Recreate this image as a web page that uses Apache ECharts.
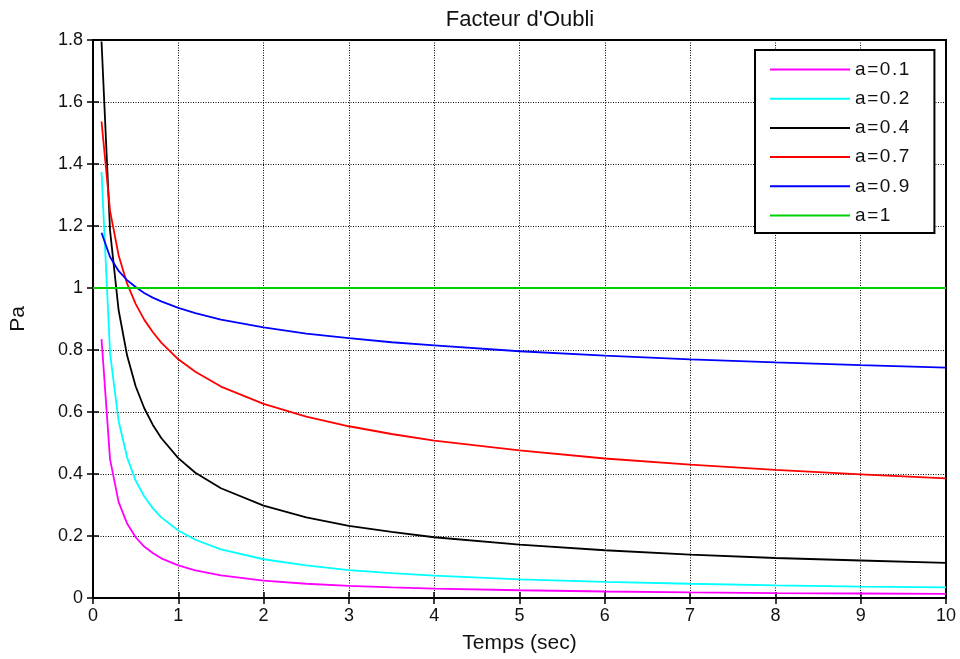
<!DOCTYPE html>
<html>
<head>
<meta charset="utf-8">
<script src="https://cdn.jsdelivr.net/npm/echarts@6/dist/echarts.min.js"></script>
<style>
  html, body { margin: 0; padding: 0; background: #fff; }
  #chart { width: 960px; height: 659px; }
</style>
</head>
<body>
<div id="chart"></div>
<script>
// values ===============================================================================
var temps = [0.1, 0.2, 0.3, 0.4, 0.5, 0.6, 0.7, 0.8, 1, 1.2, 1.5, 2, 2.5, 3, 3.5, 4, 5, 6, 7, 8, 9, 10];
var a01 = [0.835, 0.447, 0.310, 0.240, 0.196, 0.166, 0.145, 0.128, 0.105, 0.089, 0.073, 0.056, 0.046, 0.039, 0.034, 0.030, 0.025, 0.021, 0.018, 0.016, 0.0145, 0.013];
var a02 = [1.374, 0.789, 0.571, 0.453, 0.379, 0.328, 0.290, 0.260, 0.218, 0.188, 0.157, 0.125, 0.105, 0.090, 0.080, 0.072, 0.060, 0.052, 0.046, 0.041, 0.037, 0.034];
var a04 = [1.795, 1.185, 0.929, 0.782, 0.683, 0.613, 0.559, 0.516, 0.451, 0.404, 0.354, 0.298, 0.260, 0.233, 0.213, 0.196, 0.172, 0.154, 0.140, 0.129, 0.121, 0.113];
var a07 = [1.537, 1.249, 1.106, 1.014, 0.949, 0.898, 0.858, 0.824, 0.770, 0.730, 0.682, 0.626, 0.585, 0.554, 0.529, 0.508, 0.476, 0.450, 0.430, 0.413, 0.399, 0.386];
var a09 = [1.178, 1.100, 1.055, 1.025, 1.003, 0.984, 0.969, 0.957, 0.936, 0.919, 0.898, 0.873, 0.853, 0.838, 0.825, 0.815, 0.796, 0.782, 0.770, 0.760, 0.751, 0.743];
var tempsA1 = [0, 10];
var a1 = [1, 1];
var noms = ["a=0.1", "a=0.2", "a=0.4", "a=0.7", "a=0.9", "a=1"];
var couleurs = ['#ff00ff', '#00ffff', '#000000', '#ff0000', '#0000ff', '#00d000'];

function paires(xs, ys) {
    var out = [];
    for (var i = 0; i < xs.length; i++) out.push([xs[i], ys[i]]);
    return out;
}

var mychart = echarts.init(document.getElementById("chart"));
var police = 'Liberation Sans, Arial, sans-serif';
var grille = {show: true, lineStyle: {color: '#000', type: [1, 1.5], width: 1}};
var tick = {show: true, inside: true, length: 6, lineStyle: {color: '#000', width: 1.5}};

var donnees = [paires(temps, a01), paires(temps, a02), paires(temps, a04),
               paires(temps, a07), paires(temps, a09), paires(tempsA1, a1)];
var series = [];
for (var k = 0; k < noms.length; k++) {
    series.push({
        name: noms[k], type: 'line', data: donnees[k], smooth: false,
        symbol: 'none', color: couleurs[k],
        lineStyle: {width: 1.8, color: couleurs[k]}
    });
}

mychart.setOption({
    animation: false,
    backgroundColor: '#fff',
    title: {
        text: "Facteur d'Oubli", left: 515, top: 4, textAlign: 'center',
        textStyle: {fontFamily: police, fontSize: 22, fontWeight: 'normal', color: '#111'}
    },
    grid: {left: 93, right: 14, top: 40, bottom: 59, show: true, borderColor: '#000', borderWidth: 2},
    legend: {
        orient: 'vertical', left: 755, top: 50,
        data: noms, icon: 'rect',
        itemWidth: 80, itemHeight: 2, itemGap: 10.2, itemTextGap: 11,
        padding: [10, 25, 8, 15],
        backgroundColor: '#fff', borderColor: '#000', borderWidth: 2,
        formatter: function (n) { return n.split('').join('\u200A'); },
        textStyle: {fontFamily: police, fontSize: 19, color: '#111'}
    },
    xAxis: [{
        type: 'value', min: 0, max: 10, interval: 1,
        name: 'Temps (sec)', nameLocation: 'middle', nameGap: 35,
        nameTextStyle: {fontFamily: police, fontSize: 21, color: '#111'},
        axisLine: {show: false}, axisTick: tick, splitLine: grille,
        axisLabel: {fontFamily: police, fontSize: 18, color: '#111', margin: 9}
    }, {
        type: 'value', min: 0, max: 10, interval: 1, position: 'top',
        axisLine: {show: false}, axisTick: tick, splitLine: {show: false}, axisLabel: {show: false}
    }],
    yAxis: [{
        type: 'value', min: 0, max: 1.8, interval: 0.2,
        name: 'Pa', nameLocation: 'middle', nameGap: 64, nameRotate: 90,
        nameTextStyle: {fontFamily: police, fontSize: 21, color: '#111'},
        axisLine: {show: false}, axisTick: tick, splitLine: grille,
        axisLabel: {fontFamily: police, fontSize: 18, color: '#111', margin: 10}
    }, {
        type: 'value', min: 0, max: 1.8, interval: 0.2, position: 'right',
        axisLine: {show: false}, axisTick: tick, splitLine: {show: false}, axisLabel: {show: false}
    }],
    series: series
});
</script>
</body>
</html>
